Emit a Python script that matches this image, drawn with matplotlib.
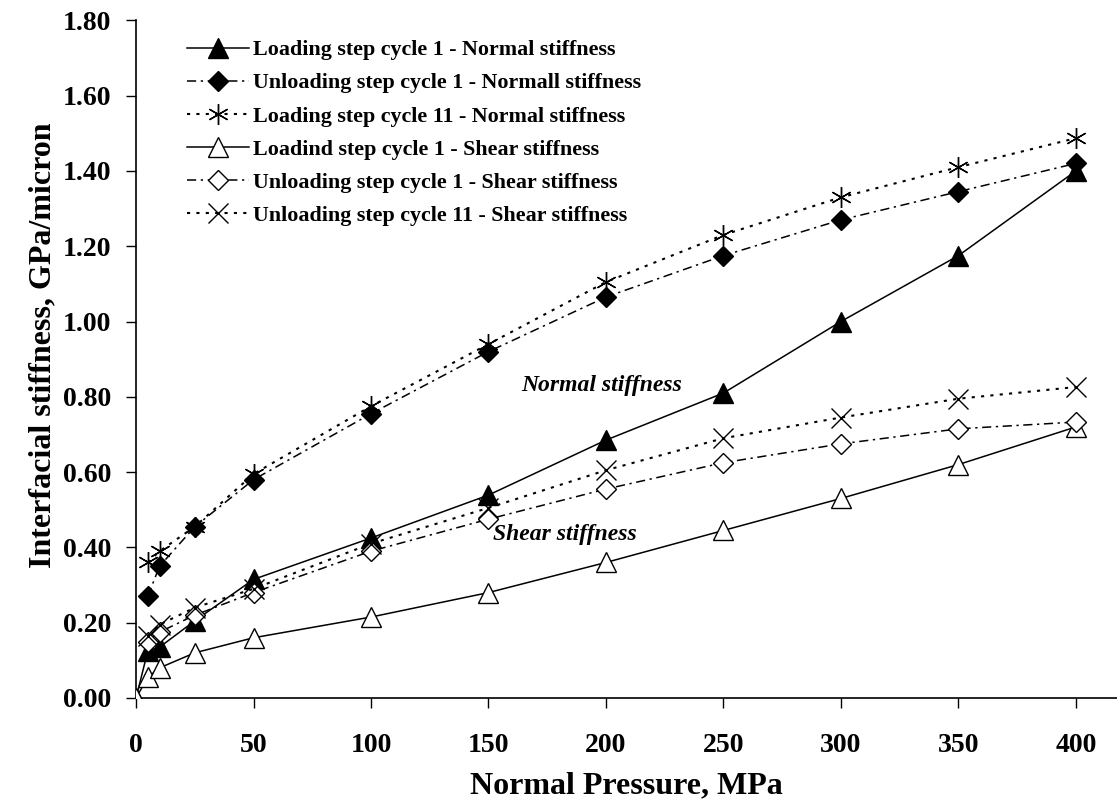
import matplotlib
matplotlib.use("Agg")
import matplotlib.pyplot as plt

# data
pressure_load = [0, 5, 10, 25, 50, 100, 150, 200, 250, 300, 350, 400]
pressure = [5, 10, 25, 50, 100, 150, 200, 250, 300, 350, 400]

load1_normal = [0.0, 0.125, 0.135, 0.205, 0.315, 0.425, 0.539, 0.685, 0.81, 1.0, 1.175, 1.40]
unload1_normal = [0.27, 0.35, 0.455, 0.58, 0.755, 0.92, 1.065, 1.175, 1.27, 1.345, 1.42]
load11_normal = [0.36, 0.39, 0.455, 0.595, 0.775, 0.94, 1.105, 1.23, 1.33, 1.41, 1.487]
load1_shear = [0.0, 0.055, 0.08, 0.12, 0.16, 0.215, 0.28, 0.36, 0.445, 0.53, 0.62, 0.72]
unload1_shear = [0.15, 0.175, 0.22, 0.28, 0.39, 0.475, 0.555, 0.625, 0.675, 0.715, 0.733]
unload11_shear = [0.165, 0.195, 0.24, 0.29, 0.41, 0.505, 0.605, 0.69, 0.745, 0.795, 0.826]

labels = ["Loading step cycle 1 - Normal stiffness",
          "Unloading step cycle 1 - Normall stiffness",
          "Loading step cycle 11 - Normal stiffness",
          "Loadind step cycle 1 - Shear stiffness",
          "Unloading step cycle 1 - Shear stiffness",
          "Unloading step cycle 11 - Shear stiffness"]

plt.rcParams["font.family"] = ["Liberation Serif", "DejaVu Serif"]
plt.rcParams["font.weight"] = "bold"

fig = plt.figure(figsize=(11.17, 8.01), dpi=100)
ax = fig.add_axes([0.1218, 0.1286, 0.8782, 0.846])

dashdot = (0, (6, 3, 1.5, 3))
dotted = (0, (1.5, 3))
ax.plot(pressure_load, load1_normal, '-', color='black', lw=1.1, marker='^', ms=14,
        mfc='black', mec='black', label=labels[0])
ax.plot(pressure, unload1_normal, linestyle=dashdot, color='black', lw=1.1, marker='D', ms=10,
        mfc='black', mec='black', label=labels[1])
ax.plot(pressure, load11_normal, linestyle=dotted, color='black', lw=1.5, marker=(6, 2, 0), ms=15,
        mec='black', mew=1.0, label=labels[2])
ax.plot(pressure_load, load1_shear, '-', color='black', lw=1.1, marker='^', ms=14,
        mfc='white', mec='black', mew=1.0, label=labels[3])
ax.plot(pressure, unload1_shear, linestyle=dashdot, color='black', lw=1.1, marker='D', ms=10,
        mfc='white', mec='black', mew=1.0, label=labels[4])
ax.plot(pressure, unload11_shear, linestyle=dotted, color='black', lw=1.5, marker='x', ms=14,
        mec='black', mew=1.0, label=labels[5])

ax.text(198, 0.83, "Normal stiffness", fontsize=17, style='italic', weight='bold', ha='center', va='center')
ax.text(182.5, 0.433, "Shear stiffness", fontsize=17, style='italic', weight='bold', ha='center', va='center')

ax.set_xlim(0, 417.5)
ax.set_ylim(0, 1.8)
ax.set_xticks([0, 50, 100, 150, 200, 250, 300, 350, 400])
ax.set_yticks([i * 0.2 for i in range(10)])
ax.set_yticklabels(["%.2f" % (i * 0.2) for i in range(10)])
ax.tick_params(labelsize=20, direction='out', length=7, width=1.0)
ax.tick_params(axis='x', pad=18)
ax.tick_params(axis='y', pad=11)
for lab in ax.get_xticklabels() + ax.get_yticklabels():
    lab.set_fontweight('bold')
ax.spines['top'].set_visible(False)
ax.spines['right'].set_visible(False)
ax.spines['left'].set_linewidth(1.2)
ax.spines['bottom'].set_linewidth(1.2)
ax.spines['left'].set_zorder(0)
ax.spines['bottom'].set_zorder(0)

ax.set_xlabel("Normal Pressure, MPa", fontsize=23, weight='bold', labelpad=10)
ax.set_ylabel("Interfacial stiffness, GPa/micron", fontsize=23, weight='bold', labelpad=4)
ax.yaxis.label.set_y(0.52)

ax.legend(loc='upper left', bbox_to_anchor=(0.160, 0.961), bbox_transform=fig.transFigure,
          frameon=False, handlelength=2.8, labelspacing=0.58, handletextpad=0.2,
          borderaxespad=0.0, prop={'weight': 'bold', 'size': 15.8})

fig.savefig("out.png", dpi=100)
